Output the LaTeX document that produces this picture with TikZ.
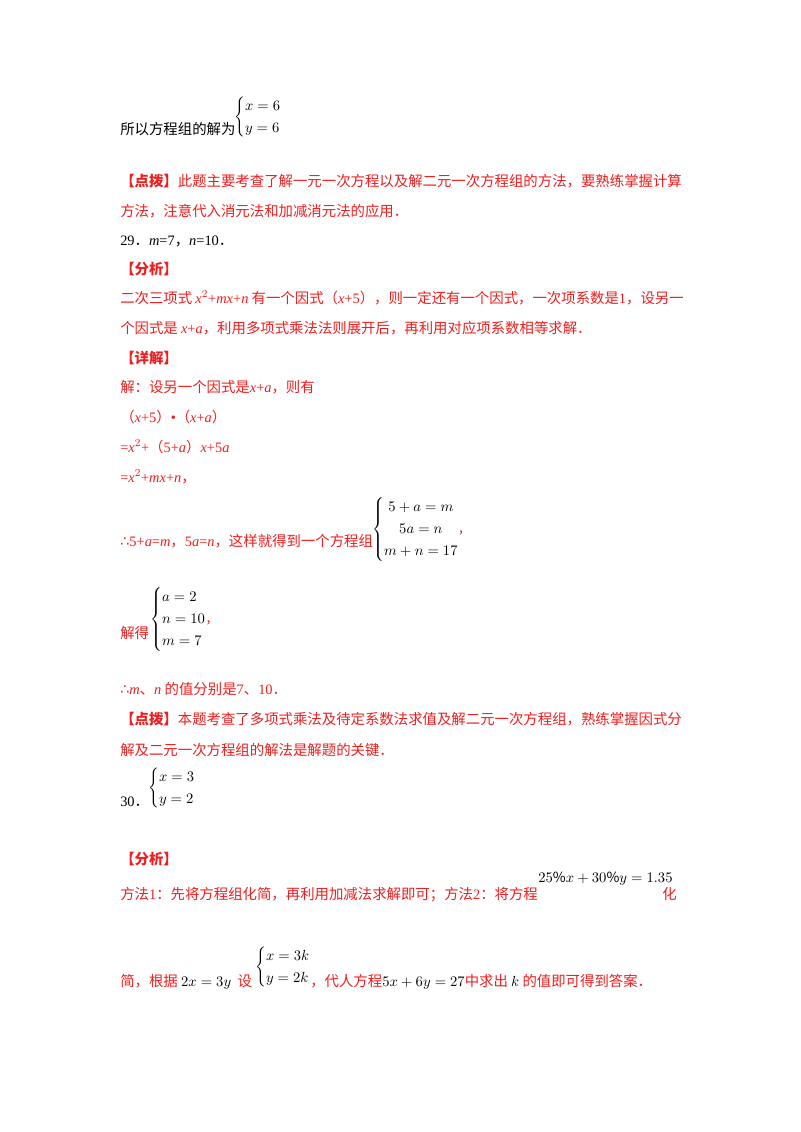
\documentclass[tikz,border=0pt]{standalone}
\usepackage{fontspec}
\setmainfont{Noto Sans CJK SC}
\newfontfamily\lib{Liberation Serif}
\newfontfamily\djv{DejaVu Sans}
\definecolor{rd}{RGB}{240,30,30}
\newcommand{\vv}[1]{{\lib\itshape #1}}
\newcommand{\nn}[1]{{\lib #1}}
\newcommand{\thf}{{\djv ∴}}
\renewcommand{\arraystretch}{1.25}
\begin{document}
\begin{tikzpicture}[x=0.75pt,y=-0.75pt,
  tx/.style={anchor=base west,inner sep=0pt,font=\fontsize{10.8}{13}\selectfont,text=rd},
  bk/.style={tx,text=black},
  eq/.style={anchor=west,inner sep=0pt,font=\fontsize{10.5}{13}\selectfont,text=black}]
\useasboundingbox[fill=white] (0,0) rectangle (800,1132);
\node[bk] (l0) at (120,134) {所以方程组的解为};
\node[eq] (e0) at (234,117) {$\left\{\begin{array}{@{}l@{}}x=6\\ y=6\end{array}\right.$};
\node[tx] (l1) at (120,186) {\textbf{【点拨】}此题主要考查了解一元一次方程以及解二元一次方程组的方法，要熟练掌握计算};
\node[tx] (l2) at (120,216) {方法，注意代入消元法和加减消元法的应用．};
\node[bk] (l3) at (120,245) {\nn{29}．\vv{m}\nn{=7}，\vv{n}\nn{=10}．};
\node[tx] (l4) at (120,274) {\textbf{【分析】}};
\node[tx] (l5) at (120,303) {二次三项式 \vv{x}\nn{$^2$+}\vv{mx}\nn{+}\vv{n} 有一个因式（\vv{x}\nn{+5}），则一定还有一个因式，一次项系数是\nn{1}，设另一};
\node[tx] (l6) at (120,333) {个因式是 \vv{x}\nn{+}\vv{a}，利用多项式乘法法则展开后，再利用对应项系数相等求解．};
\node[tx] (l7) at (120,363) {\textbf{【详解】}};
\node[tx] (l8) at (120,392) {解：设另一个因式是\vv{x}\nn{+}\vv{a}，则有};
\node[tx] (l9) at (120,422) {（\vv{x}\nn{+5}）\nn{•}（\vv{x}\nn{+}\vv{a}）};
\node[tx] (l10) at (120,452) {\nn{=}\vv{x}\nn{$^2$+}（\nn{5+}\vv{a}）\vv{x}\nn{+5}\vv{a}};
\node[tx] (l11) at (120,482) {\nn{=}\vv{x}\nn{$^2$+}\vv{mx}\nn{+}\vv{n}，};
\node[tx] (l12) at (120,546) {\thf\nn{5+}\vv{a}\nn{=}\vv{m}，\nn{5}\vv{a}\nn{=}\vv{n}，这样就得到一个方程组};
\node[eq] (e1) at (372,529) {$\left\{\begin{array}{@{}c@{}}5+a=m\\ 5a=n\\ m+n=17\end{array}\right.$\textcolor{rd}{,}};
\node[tx] (l13) at (120,638) {解得};
\node[eq] (e2) at (150,619) {$\left\{\begin{array}{@{}l@{}}a=2\\ n=10\\ m=7\end{array}\right.$\textcolor{rd}{,}};
\node[tx] (l14) at (120,694) {\thf\vv{m}、\vv{n} 的值分别是\nn{7}、\nn{10}．};
\node[tx] (l15) at (120,724) {\textbf{【点拨】}本题考查了多项式乘法及待定系数法求值及解二元一次方程组，熟练掌握因式分};
\node[tx] (l16) at (120,755) {解及二元一次方程组的解法是解题的关键．};
\node[bk] (l17) at (120,806) {\nn{30}．};
\node[eq] (e3) at (148,788) {$\left\{\begin{array}{@{}l@{}}x=3\\ y=2\end{array}\right.$};
\node[tx] (l18) at (120,864) {\textbf{【分析】}};
\node[tx] (l19) at (120,899) {方法\nn{1}：先将方程组化简，再利用加减法求解即可；方法\nn{2}：将方程};
\node[eq] (e4) at (538,879) {$25\%x+30\%y=1.35$};
\node[tx] (l20) at (662,899) {化};
\node[tx] (l21) at (120,986) {简，根据 \textcolor{black}{$2x=3y$}\ \ 设};
\node[eq] (e5) at (255,967) {$\left\{\begin{array}{@{}l@{}}x=3k\\ y=2k\end{array}\right.$};
\node[tx] (l22) at (310,986) {，代人方程\textcolor{black}{$5x+6y=27$}中求出 \textcolor{black}{$k$} 的值即可得到答案．};
\end{tikzpicture}
\end{document}
